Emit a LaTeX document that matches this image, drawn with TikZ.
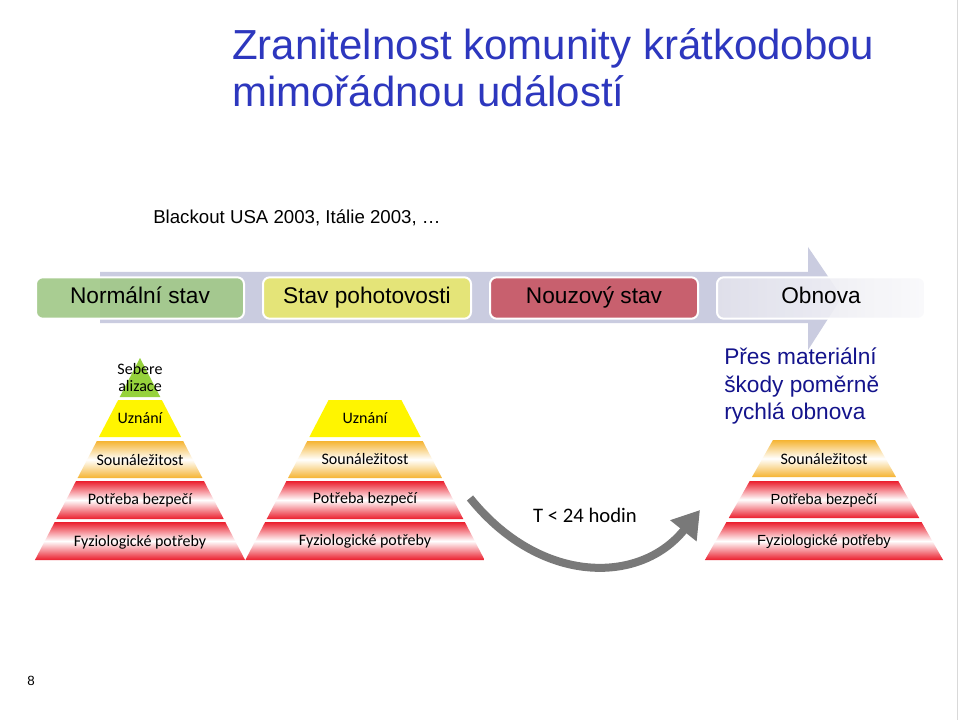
\documentclass[tikz,border=0pt]{standalone}
\usepackage{fontspec}
\setmainfont{Liberation Sans}
\newfontfamily\calib{Carlito}
\usetikzlibrary{arrows.meta}
\definecolor{titleblue}{RGB}{45,55,190}
\definecolor{darkblue}{RGB}{20,20,140}
\definecolor{arrowlav}{RGB}{202,204,224}
\definecolor{gbox}{RGB}{160,200,135}
\definecolor{ybox}{RGB}{228,228,120}
\definecolor{rbox}{RGB}{200,96,110}
\definecolor{obox}{RGB}{226,226,236}
\definecolor{pgreen}{RGB}{150,210,60}
\definecolor{pyellow}{RGB}{255,245,0}
\definecolor{porange}{RGB}{245,180,50}
\definecolor{pred}{RGB}{235,30,45}
\newcommand{\pyrlayerk}[6]{%
  \path[#5] ({#1-(#3-#2)*#6},#3) -- ({#1+(#3-#2)*#6},#3) -- ({#1+(#4-#2)*#6},#4) -- ({#1-(#4-#2)*#6},#4) -- cycle;}
\tikzset{
  statebox/.style={rounded corners=5pt, draw=white, line width=1.5pt, minimum width=156pt, minimum height=31pt, text height=12pt, text depth=3pt, font=\fontsize{17}{20}\selectfont, anchor=center},
  ptext/.style={font=\calib\fontsize{12}{13}\selectfont, inner sep=0pt, anchor=base},
  ptexta/.style={font=\fontsize{11}{13}\selectfont, inner sep=0pt, anchor=base},
  orl/.style={top color=porange, bottom color=porange, middle color=white},
  redl/.style={top color=pred, bottom color=pred, middle color=white},
}
\begin{document}
\begin{tikzpicture}[x=0.75pt,y=-0.75pt]
\useasboundingbox (0,0) rectangle (960,720);
\fill[white] (0,0) rectangle (960,720);
\draw[gray!30] (957,0) -- (957,720);
% title
\node[anchor=base west, inner sep=0pt, text=titleblue, font=\fontsize{31.5}{36}\selectfont] (t1) at (232,60) {Zranitelnost komunity krátkodobou};
\node[anchor=base west, inner sep=0pt, text=titleblue, font=\fontsize{31.5}{36}\selectfont] (t2) at (232,107) {mimořádnou událostí};
\node[anchor=base west, inner sep=0pt, font=\fontsize{14}{16}\selectfont] (bl) at (153,224) {Blackout USA 2003, Itálie 2003, …};
% big arrow
\fill[arrowlav] (100,272) -- (808,272) -- (808,247) -- (842,297) -- (808,350) -- (808,323) -- (100,323) -- cycle;
% boxes
\node[statebox, fill=gbox, fill opacity=0.9, text opacity=1] (n1) at (140,298) {Normální stav};
\node[statebox, fill=ybox] (n2) at (367,298) {Stav pohotovosti};
\node[statebox, fill=rbox] (n3) at (594,298) {Nouzový stav};
\node[statebox, left color=obox, right color=obox!20, fill opacity=0.9, text opacity=1] (n4) at (821,298) {Obnova};
% left pyramid
\path[fill=pgreen] (140,358) -- ({140+39*0.52},397) -- ({140-39*0.52},397) -- cycle;
\pyrlayerk{140}{358}{400}{437}{fill=pyellow}{0.52}
\pyrlayerk{140}{358}{441}{478}{orl}{0.52}
\pyrlayerk{140}{358}{481}{519}{redl}{0.52}
\pyrlayerk{140}{358}{522}{560}{redl}{0.52}
\node[ptext] (l0a) at (140,374) {Sebere};
\node[ptext] (l0b) at (140,391) {alizace};
\node[ptext] (l1) at (140,423) {Uznání};
\node[ptext] (l2) at (140,465) {Sounáležitost};
\node[ptext] (l3) at (140,504) {Potřeba bezpečí};
\node[ptext] (l4) at (140,546) {Fyziologické potřeby};
% middle pyramid
\pyrlayerk{365}{330}{400}{437}{fill=pyellow}{0.52}
\pyrlayerk{365}{330}{441}{478}{orl}{0.52}
\pyrlayerk{365}{330}{481}{519}{redl}{0.52}
\pyrlayerk{365}{330}{522}{560}{redl}{0.52}
\node[ptext] (m1) at (365,423) {Uznání};
\node[ptext] (m2) at (365,464) {Sounáležitost};
\node[ptext] (m3) at (365,503) {Potřeba bezpečí};
\node[ptext] (m4) at (365,545) {Fyziologické potřeby};
% right pyramid
\pyrlayerk{824}{350}{440}{477}{orl}{0.567}
\pyrlayerk{824}{350}{481}{518}{redl}{0.567}
\pyrlayerk{824}{350}{522}{560}{redl}{0.567}
\node[ptext] (r2) at (824,464) {Sounáležitost};
\node[ptexta] (r3) at (824,504) {Potřeba bezpečí};
\node[ptexta] (r4) at (824,545) {Fyziologické potřeby};
% blue text
\node[anchor=north west, inner sep=0pt, text=darkblue, font=\fontsize{17}{20.5}\selectfont, align=left] (bt) at (724,348) {Přes materiální\\škody poměrně\\rychlá obnova};
% curved arrow
\coordinate (cs) at (470,498);
\coordinate (ce) at (700,510);
\draw[line width=6pt, color=gray!95!black, -{Triangle[length=20pt,width=24pt]}] (cs) .. controls (540,585) and (640,585) .. (ce);
\node[font=\calib\fontsize{15.5}{18}\selectfont] (tl) at (585,515) {T < 24 hodin};
\node[font=\fontsize{10}{12}\selectfont] (pg) at (31,681) {8};
\end{tikzpicture}
\end{document}
